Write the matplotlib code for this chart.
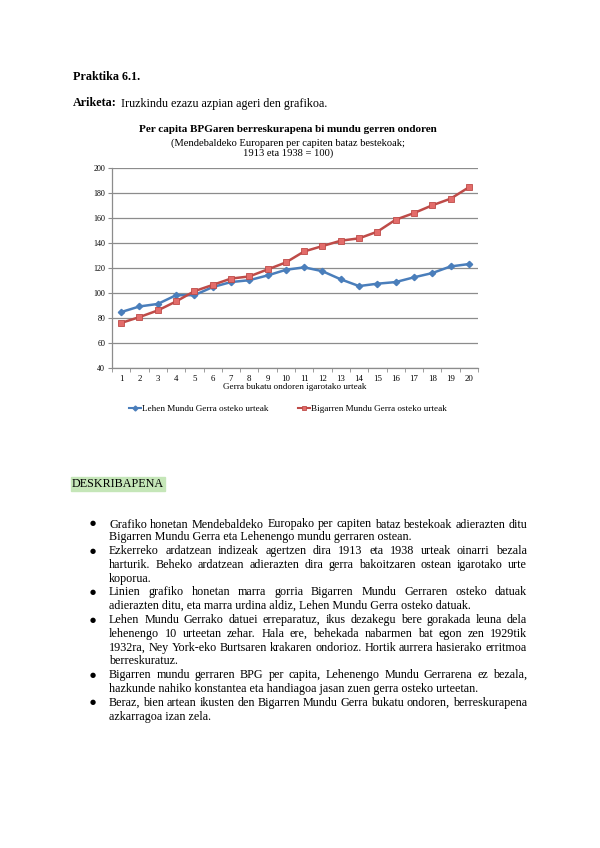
import matplotlib
matplotlib.use('Agg')
import numpy as np
import matplotlib.pyplot as plt
from matplotlib.lines import Line2D
from matplotlib.backends.backend_agg import RendererAgg

# datuak
urteak = list(range(1, 21))
lehen_gerra = [84.5, 89.0, 91.0, 98.0, 98.0, 104.5, 108.5, 110.0, 113.8, 118.3,
               120.3, 117.2, 110.7, 105.3, 107.2, 108.5, 112.3, 115.7, 121.0, 122.9]
bigarren_gerra = [75.8, 80.5, 85.8, 93.0, 101.2, 106.2, 111.3, 113.0, 118.6, 124.2,
                  133.0, 137.3, 141.6, 143.5, 148.8, 158.4, 163.7, 169.9, 175.2, 184.3]
y_ticks = [40, 60, 80, 100, 120, 140, 160, 180, 200]

izenburua = 'Per capita BPGaren berreskurapena bi mundu gerren ondoren'
azpi_izenburua = '(Mendebaldeko Europaren per capiten bataz bestekoak;\n1913 eta 1938 = 100)'
x_label = 'Gerra bukatu ondoren igarotako urteak'
legenda = ['Lehen Mundu Gerra osteko urteak', 'Bigarren Mundu Gerra osteko urteak']

# (testua, justifikatua, buletaren hasiera)
lerroak = [
    ('Grafiko honetan Mendebaldeko Europako per capiten bataz bestekoak adierazten ditu', True, True),
    ('Bigarren Mundu Gerra eta Lehenengo mundu gerraren ostean.', False, False),
    ('Ezkerreko ardatzean indizeak agertzen dira 1913 eta 1938 urteak oinarri bezala', True, True),
    ('harturik. Beheko ardatzean adierazten dira gerra bakoitzaren ostean igarotako urte', True, False),
    ('koporua.', False, False),
    ('Linien grafiko honetan marra gorria Bigarren Mundu Gerraren osteko datuak', True, True),
    ('adierazten ditu, eta marra urdina aldiz, Lehen Mundu Gerra osteko datuak.', False, False),
    ('Lehen Mundu Gerrako datuei erreparatuz, ikus dezakegu bere gorakada leuna dela', True, True),
    ('lehenengo 10 urteetan zehar. Hala ere, behekada nabarmen bat egon zen 1929tik', True, False),
    ('1932ra, Ney York-eko Burtsaren krakaren ondorioz. Hortik aurrera hasierako erritmoa', True, False),
    ('berreskuratuz.', False, False),
    ('Bigarren mundu gerraren BPG per capita, Lehenengo Mundu Gerrarena ez bezala,', True, True),
    ('hazkunde nahiko konstantea eta handiagoa jasan zuen gerra osteko urteetan.', False, False),
    ('Beraz, bien artean ikusten den Bigarren Mundu Gerra bukatu ondoren, berreskurapena', True, True),
    ('azkarragoa izan zela.', False, False),
]

W, H = 600, 848
plt.rcParams['font.family'] = ['Liberation Serif', 'DejaVu Serif']
fig = plt.figure(figsize=(W / 100, H / 100), dpi=100)
fig.patch.set_facecolor('white')


def fx(px):
    return px / W


def fy(py):
    return 1 - py / H


body = 8.7
base = 3.5  # lerroaren erditik oinarri-lerrora
fig.canvas.draw()
r = fig.canvas.get_renderer()


def zabalera(s, **kw):
    t = fig.text(0, 0, s, fontsize=body, **kw)
    w = t.get_window_extent(r).width
    t.remove()
    return w


# Agg-ek hitz bakoitzaren oinarri-lerroa pixel bat mugi dezake; "strut" duen
# bertsioarekin konparatu eta zuzendu
STRUT = '      \u00c5jgpy|'


def alfa(t):
    rr = RendererAgg(W, H, fig.dpi)
    t.draw(rr)
    return np.asarray(rr.buffer_rgba())[:, :, 3].astype(float)


def testua_jarri(x, y, s, w=None, **kw):
    yb = y + base
    if w is None:
        w = zabalera(s, **kw)
    t1 = fig.text(fx(x), fy(yb), s, fontsize=body, va='baseline', **kw)
    t2 = fig.text(fx(x), fy(yb), s + STRUT, fontsize=body, va='baseline', **kw)
    a1, a2 = alfa(t1), alfa(t2)
    t2.remove()
    c0, c1 = max(int(x) - 2, 0), min(int(x + w) + 2, W)
    r0, r1 = int(yb) - 16, int(yb) + 8
    ref = a2[r0:r1, c0:c1]
    best_k, best_e = 0, None
    for k in [0, -1, 1, -2, 2, -3, 3]:
        e = np.abs(a1[r0 + k:r1 + k, c0:c1] - ref).sum()
        if best_e is None or e < best_e:
            best_k, best_e = k, e
    t1.set_position((fx(x), fy(yb - best_k)))
    return t1


testua_jarri(73, 75, 'Praktika 6.1.', fontweight='bold')
w_ar = zabalera('Ariketa:', fontweight='bold')
testua_jarri(73, 104, 'Ariketa:', w_ar, fontweight='bold')
testua_jarri(73 + w_ar + 4, 104, 'Iruzkindu ezazu azpian ageri den grafikoa.')

# grafikoa
ax = fig.add_axes([fx(112), fy(367.7), fx(478) - fx(112), (367.7 - 167.7) / H])
ax.plot(urteak, lehen_gerra, color='#4a7ebb', lw=1.8, marker='D', ms=3.2,
        markerfacecolor='#4a7ebb', markeredgecolor='#4a7ebb', label=legenda[0])
ax.plot(urteak, bigarren_gerra, color='#be4b48', lw=1.8, marker='s', ms=4.3,
        markerfacecolor='#e36c6a', markeredgecolor='#be4b48', markeredgewidth=0.6,
        label=legenda[1])
ax.set_xlim(0.5, 20.5)
ax.set_ylim(40, 200)
ax.set_yticks(y_ticks)
ax.set_yticklabels([str(v) for v in y_ticks], fontsize=5.8)
ax.set_xticks(urteak)
ax.set_xticklabels([str(u) for u in urteak], fontsize=6.3)
ax.set_xticks([u - 0.5 for u in urteak] + [20.5], minor=True)
ax.tick_params(axis='x', which='major', length=0, pad=5)
ax.tick_params(axis='x', which='minor', length=3, color='#8c8c8c', direction='out')
ax.tick_params(axis='y', length=3, color='#8c8c8c', direction='out', pad=2)
ax.yaxis.grid(True, color='#8c8c8c', lw=0.9)
ax.set_axisbelow(True)
for s in ['top', 'right']:
    ax.spines[s].set_visible(False)
for s in ['left', 'bottom']:
    ax.spines[s].set_color('#8c8c8c')
    ax.spines[s].set_linewidth(0.9)
ax.set_xlabel(x_label, fontsize=6.6, labelpad=0)

fig.text(fx(288), fy(129), izenburua, fontsize=8.0, fontweight='bold', ha='center', va='center')
fig.text(fx(288), fy(148), azpi_izenburua, fontsize=7.6, ha='center', va='center',
         linespacing=1.05)

h = [Line2D([], [], color='#4a7ebb', lw=1.5, marker='D', ms=2.5),
     Line2D([], [], color='#be4b48', lw=1.5, marker='s', ms=3.5,
            markerfacecolor='#e36c6a', markeredgecolor='#be4b48', markeredgewidth=0.6)]
fig.legend(h, legenda, loc='center', bbox_to_anchor=(fx(288), fy(409)), ncol=2,
           frameon=False, fontsize=6.6, handlelength=1.3, handletextpad=0.1,
           columnspacing=3.2)

# deskribapena
fig.patches.append(plt.Rectangle((fx(71), fy(491)), fx(165) - fx(71), (491 - 477) / H,
                                 transform=fig.transFigure, color='#c5e6b8', zorder=0))
testua_jarri(72, 484, 'DESKRIBAPENA')

x0, x1 = 109, 527
y = 523
for testua, just, bulet in lerroak:
    if bulet:
        fig.text(fx(93), fy(y), '\u25cf', fontsize=5, va='center', ha='center',
                 family='DejaVu Sans')
    if not just:
        testua_jarri(x0, y, testua)
    else:
        hitzak = testua.split()
        zab = [zabalera(hw) for hw in hitzak]
        tartea = (x1 - x0 - sum(zab)) / (len(hitzak) - 1)
        xx = x0
        for hw, wd in zip(hitzak, zab):
            testua_jarri(xx, y, hw, wd)
            xx += wd + tartea
    y += 13.8

fig.savefig('out.png', dpi=100, facecolor='white')
